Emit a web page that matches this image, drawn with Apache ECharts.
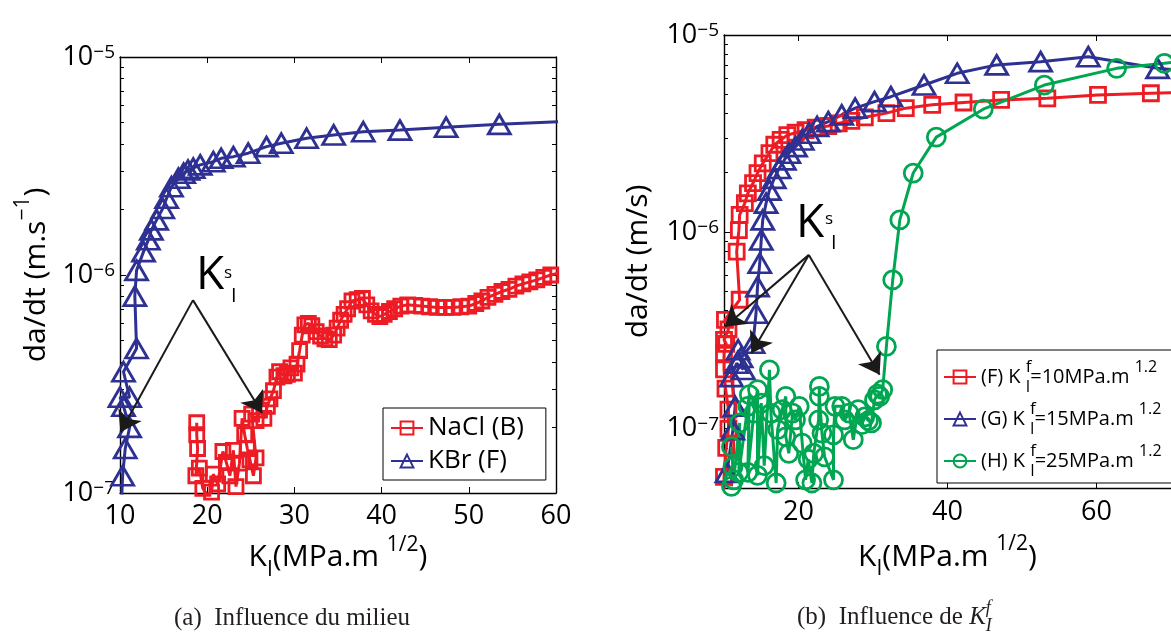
<!DOCTYPE html>
<html><head><meta charset="utf-8">
<script src="https://cdn.jsdelivr.net/npm/echarts@6/dist/echarts.min.js"></script>
<style>html,body{margin:0;padding:0;background:#fff}#c{width:1171px;height:635px}</style>
</head><body><div id="c"></div>
<script>
// ---------- data (x = K_I in MPa.m^1/2, y = da/dt) ----------
const xTicksA = [10, 20, 30, 40, 50, 60];
const xTicksB = [20, 40, 60];
const yTicksA = [1e-7, 1e-6, 1e-5];
const yTicksB = [1e-7, 1e-6, 1e-5];

const namesA = ['NaCl (B)', 'KBr (F)'];
const namesB = ['(F) K_I^f=10MPa.m^1.2', '(G) K_I^f=15MPa.m^1.2', '(H) K_I^f=25MPa.m^1.2'];
const legendPartsB = [['(F) K', '=10MPa.m'], ['(G) K', '=15MPa.m'], ['(H) K', '=25MPa.m']];

const naclB = [[18.8,2.1e-7],[18.8,1.85e-7],[18.9,1.6e-7],[18.7,1.2e-7],[19.1,1.3e-7],[19.5,1.05e-7],[20.0,0.98e-7],[20.5,1.01e-7],[20.7,1.22e-7],[21.2,1.1e-7],[21.8,1.55e-7],[22.2,1.38e-7],[22.6,1.2e-7],[23.0,1.57e-7],[23.3,1.07e-7],[23.7,1.37e-7],[24.0,2.2e-7],[24.3,1.85e-7],[24.6,1.6e-7],[24.9,1.42e-7],[25.3,1.2e-7],[25.6,1.45e-7],[25.1,2.3e-7],[25.6,2.15e-7],[26.0,2.4e-7],[26.5,2.2e-7],[26.9,2.5e-7],[27.2,2.7e-7],[27.6,2.95e-7],[28.0,3.4e-7],[28.3,3.6e-7],[28.8,3.45e-7],[29.2,3.5e-7],[29.6,3.75e-7],[30.0,3.55e-7],[30.3,3.9e-7],[30.6,4.5e-7],[30.9,5.3e-7],[31.2,5.9e-7],[31.6,6.0e-7],[32.0,5.85e-7],[32.5,5.5e-7],[33.0,5.25e-7],[33.5,5.1e-7],[34.0,5.05e-7],[34.5,5.3e-7],[34.9,5.7e-7],[35.3,6.2e-7],[35.7,6.6e-7],[36.1,7.0e-7],[36.6,7.6e-7],[37.2,7.7e-7],[37.8,7.8e-7],[38.3,7.3e-7],[38.8,6.85e-7],[39.3,6.6e-7],[39.8,6.45e-7],[40.3,6.6e-7],[40.9,6.8e-7],[41.5,7.0e-7],[42.2,7.2e-7],[43.0,7.3e-7],[43.8,7.25e-7],[44.6,7.2e-7],[45.5,7.15e-7],[46.4,7.1e-7],[47.3,7.1e-7],[48.2,7.1e-7],[49.1,7.15e-7],[50.0,7.2e-7],[50.8,7.4e-7],[51.5,7.6e-7],[52.2,7.9e-7],[53.0,8.15e-7],[53.8,8.4e-7],[54.6,8.6e-7],[55.4,8.9e-7],[56.2,9.1e-7],[57.0,9.3e-7],[57.8,9.5e-7],[58.6,9.75e-7],[59.4,1.0e-6],[60.3,1.02e-6]];

const kbrF = [[10.15,0.85e-7],[10.3,1.2e-7],[10.6,1.6e-7],[11.1,2.0e-7],[10.4,2.5e-7],[10.0,2.75e-7],[11.1,2.75e-7],[10.4,3.6e-7],[11.9,4.6e-7],[11.7,8.0e-7],[11.9,1.05e-6],[12.7,1.28e-6],[13.25,1.45e-6],[13.6,1.61e-6],[14.2,1.79e-6],[14.9,2.02e-6],[15.35,2.25e-6],[15.9,2.54e-6],[16.7,2.78e-6],[17.3,2.93e-6],[17.8,3.03e-6],[18.4,3.09e-6],[19.2,3.2e-6],[20.7,3.31e-6],[21.6,3.43e-6],[23.0,3.49e-6],[24.7,3.62e-6],[26.8,3.88e-6],[28.5,4.02e-6],[31.4,4.24e-6],[34.5,4.39e-6],[37.9,4.54e-6],[42.1,4.62e-6],[47.4,4.76e-6],[53.5,4.91e-6],[61.5,5.08e-6]];

const kf10 = [[10.0,4.8e-8],[10.0,5.7e-8],[10.3,8.0e-8],[10.6,1.0e-7],[10.6,1.25e-7],[10.2,1.6e-7],[10.0,2.0e-7],[10.0,2.42e-7],[10.3,2.7e-7],[10.0,2.83e-7],[10.6,3.2e-7],[10.13,3.57e-7],[12.1,4.52e-7],[11.7,7.94e-7],[12.0,1.02e-6],[12.1,1.22e-6],[12.8,1.40e-6],[13.2,1.57e-6],[13.9,1.77e-6],[14.5,1.99e-6],[15.2,2.23e-6],[16.1,2.51e-6],[16.75,2.77e-6],[17.6,2.93e-6],[18.5,3.1e-6],[19.6,3.19e-6],[20.95,3.29e-6],[22.3,3.38e-6],[24.0,3.45e-6],[25.4,3.56e-6],[27.1,3.66e-6],[28.9,3.82e-6],[31.8,4.01e-6],[34.4,4.25e-6],[37.95,4.42e-6],[42.15,4.54e-6],[47.2,4.68e-6],[53.4,4.77e-6],[60.2,4.96e-6],[67.3,5.06e-6],[72,5.1e-6]];

const kf15 = [[9.5,4.5e-8],[10.4,6.0e-8],[11.2,9.9e-8],[11.5,1.3e-7],[11.0,1.84e-7],[11.7,2.15e-7],[12.6,2.0e-7],[11.9,2.52e-7],[12.3,2.3e-7],[13.9,2.72e-7],[14.3,3.86e-7],[14.5,5.27e-7],[14.8,6.93e-7],[15.0,9.1e-7],[15.2,1.15e-6],[15.65,1.40e-6],[16.1,1.63e-6],[16.75,1.87e-6],[17.4,2.10e-6],[18.1,2.32e-6],[18.7,2.51e-6],[19.6,2.71e-6],[20.5,2.93e-6],[21.4,3.17e-6],[22.5,3.43e-6],[24.0,3.63e-6],[25.8,3.93e-6],[27.6,4.25e-6],[30.2,4.59e-6],[32.4,4.86e-6],[36.85,5.57e-6],[41.3,6.39e-6],[46.6,7.05e-6],[52.5,7.32e-6],[58.9,7.76e-6],[68.2,6.77e-6],[72,6.6e-6]];

const kf25 = [[11.0,5.1e-8],[11.2,6.4e-8],[11.0,8.1e-8],[11.3,5.5e-8],[12.1,1.07e-7],[12.0,6.0e-8],[13.2,1.30e-7],[13.4,1.49e-7],[13.2,6.0e-8],[14.0,1.2e-7],[14.5,1.58e-7],[14.5,5.8e-8],[15.0,1.35e-7],[15.4,6.5e-8],[16.1,1.99e-7],[16.3,1.20e-7],[17.0,5.3e-8],[17.2,9.9e-8],[17.8,1.25e-7],[18.3,1.46e-7],[18.3,9.1e-8],[18.7,7.5e-8],[19.2,1.2e-7],[19.6,1.11e-7],[20.1,1.30e-7],[20.5,8.45e-8],[20.95,5.5e-8],[21.3,7.0e-8],[21.8,5.3e-8],[22.05,7.5e-8],[22.7,1.11e-7],[22.8,1.64e-7],[22.8,1.46e-7],[23.15,9.5e-8],[23.5,7.2e-8],[24.7,5.5e-8],[24.7,9.3e-8],[24.9,1.30e-7],[25.8,1.30e-7],[26.2,1.11e-7],[26.8,1.2e-7],[27.35,8.8e-8],[28.0,1.25e-7],[28.5,1.05e-7],[28.9,1.15e-7],[29.4,1.1e-7],[29.8,1.07e-7],[30.2,1.40e-7],[30.6,1.5e-7],[30.9,1.46e-7],[31.3,1.58e-7],[31.8,2.62e-7],[32.65,5.7e-7],[33.6,1.15e-6],[35.4,1.99e-6],[38.5,3.03e-6],[44.8,4.2e-6],[53.0,5.57e-6],[62.7,6.77e-6],[69.1,7.18e-6],[72,7.4e-6]];

// K_I^s annotation arrows (data coordinates)
const arrowApexA = [18.37, 7.67e-7];
const arrowTipsA = [[10.05, 1.9e-7], [26.3, 2.33e-7]];
const arrowApexB = [21.39, 7.64e-7];
const arrowTipsB = [[10.13, 3.3e-7], [13.67, 2.42e-7], [30.89, 1.88e-7]];

// ---------- styles ----------
const RED = '#ED1C24', BLUE = '#2E3192', GREEN = '#00A651';
const FF = '"Open Sans", sans-serif';
const SERIF = '"Liberation Serif", "DejaVu Serif", serif';

function sci(v) {
  const l = Math.log10(v), e = Math.round(l);
  if (Math.abs(l - e) > 1e-6) return '';
  return '{b|10}{s|−' + (-e) + '}';
}
const yRich = {
  b: {fontSize: 27, fontFamily: FF, color: '#000', lineHeight: 28},
  s: {fontSize: 19, fontFamily: FF, color: '#000', lineHeight: 4, verticalAlign: 'top'}
};
const nameRich = {
  n: {fontSize: 30, fontFamily: FF, color: '#000', lineHeight: 46},
  sb: {fontSize: 21, fontFamily: FF, color: '#000', lineHeight: 10, verticalAlign: 'bottom'},
  sp: {fontSize: 21, fontFamily: FF, color: '#000', lineHeight: 16, verticalAlign: 'top'}
};
const xName = '{n|K}{sb|I}{n|(MPa.m }{sp|1/2}{n|)}';

const axLine = {show: true, lineStyle: {color: '#000', width: 1.4}};
const tickIn = {show: true, inside: true, length: 6, lineStyle: {color: '#000', width: 1}};
const minorIn = {show: true, splitNumber: 9, length: 4, lineStyle: {color: '#000', width: 1}};

function mkSeries(name, pts, symbol, size, color, xi, yi) {
  return {
    type: 'line', name, data: pts, xAxisIndex: xi, yAxisIndex: yi,
    symbol, symbolSize: size, clip: true,
    lineStyle: {color, width: 3},
    itemStyle: {color: 'rgba(255,255,255,0)', borderColor: color, borderWidth: 2.8},
    emphasis: {disabled: true}
  };
}
function arrowSeries(apex, tips, xi, yi) {
  return {
    type: 'line', name: 'arrows' + xi, data: [], xAxisIndex: xi, yAxisIndex: yi,
    silent: true,
    markLine: {
      silent: true, symbol: ['none', 'arrow'], symbolSize: 20, animation: false,
      label: {show: false},
      lineStyle: {color: '#1a1a1a', width: 2, type: 'solid'},
      emphasis: {disabled: true},
      data: tips.map(t => [{coord: apex}, {coord: t}])
    }
  };
}

const chart = echarts.init(document.getElementById('c'), null, {renderer: 'canvas'});
chart.setOption({
  animation: false,
  backgroundColor: '#fff',
  grid: [
    {left: 120, top: 57, width: 436, height: 436},
    {left: 724, top: 35, width: 453, height: 453}
  ],
  xAxis: [
    {gridIndex: 0, type: 'value', position: 'bottom', min: 10, max: 60, interval: 10,
     axisLine: axLine, axisTick: tickIn, splitLine: {show: false},
     axisLabel: {fontSize: 27, fontFamily: FF, color: '#000', margin: 10},
     name: xName, nameLocation: 'middle', nameGap: 41, nameTextStyle: {rich: nameRich}},
    {gridIndex: 0, type: 'value', position: 'top', min: 10, max: 60, interval: 10,
     axisLine: axLine, axisTick: tickIn, splitLine: {show: false}, axisLabel: {show: false}},
    {gridIndex: 1, type: 'value', position: 'bottom', min: 10, max: 70,
     axisLine: axLine, axisTick: Object.assign({}, tickIn, {customValues: xTicksB}), splitLine: {show: false},
     axisLabel: {fontSize: 27, fontFamily: FF, color: '#000', margin: 11, customValues: xTicksB},
     name: xName, nameLocation: 'middle', nameGap: 46, nameTextStyle: {rich: nameRich}},
    {gridIndex: 1, type: 'value', position: 'top', min: 10, max: 70,
     axisLine: axLine, axisTick: Object.assign({}, tickIn, {customValues: xTicksB}), splitLine: {show: false}, axisLabel: {show: false}}
  ],
  yAxis: [
    {gridIndex: 0, type: 'log', logBase: 10, position: 'left', min: 1e-7, max: 1e-5,
     axisLine: axLine, axisTick: tickIn, minorTick: minorIn, splitLine: {show: false}, minorSplitLine: {show: false},
     axisLabel: {formatter: sci, customValues: yTicksA, margin: 5, rich: yRich},
     name: '{n|da/dt (m.s}{sp|−1}{n|)}', nameLocation: 'middle', nameGap: 61,
     nameTextStyle: {rich: nameRich}},
    {gridIndex: 0, type: 'log', logBase: 10, position: 'right', min: 1e-7, max: 1e-5,
     axisLine: axLine, axisTick: tickIn, minorTick: minorIn, splitLine: {show: false}, axisLabel: {show: false}},
    {gridIndex: 1, type: 'log', logBase: 10, position: 'left', min: 5e-8, max: 1e-5,
     axisLine: axLine, axisTick: tickIn, minorTick: minorIn, splitLine: {show: false}, minorSplitLine: {show: false},
     axisLabel: {formatter: sci, customValues: yTicksB, margin: 5, rich: yRich},
     name: '{n|da/dt (m/s)}', nameLocation: 'middle', nameGap: 63,
     nameTextStyle: {rich: nameRich}}
  ],
  legend: [
    {data: namesA, orient: 'vertical', left: 383, top: 408, selectedMode: false,
     backgroundColor: '#fff', borderColor: '#000', borderWidth: 1, borderRadius: 0,
     padding: [7, 22, 6, 7], itemWidth: 32, itemHeight: 16, itemGap: 7,
     formatter: name => '{t|' + name + '}',
     textStyle: {fontSize: 26, fontFamily: FF, color: '#000', rich: {
       t: {fontSize: 26, fontFamily: FF, color: '#000', lineHeight: 30}
     }}},
    {data: namesB, orient: 'vertical', left: 937, top: 350, selectedMode: false,
     backgroundColor: '#fff', borderColor: '#000', borderWidth: 1, borderRadius: 0,
     padding: [9, 20, 4, 6], itemWidth: 32, itemHeight: 16, itemGap: 6,
     formatter: function (name) {
       const p = legendPartsB[namesB.indexOf(name)];
       return '{t|' + p[0] + ' }{f|f}{i|I}{t|' + p[1] + ' }{p|1.2}';
     },
     textStyle: {fontFamily: FF, color: '#000', rich: {
       t: {fontSize: 20, fontFamily: FF, color: '#000', lineHeight: 36},
       f: {fontSize: 17, fontFamily: FF, color: '#000', lineHeight: 18, width: 0, verticalAlign: 'top'},
       i: {fontSize: 16, fontFamily: FF, color: '#000', lineHeight: 8, verticalAlign: 'bottom'},
       p: {fontSize: 16, fontFamily: FF, color: '#000', lineHeight: 14, verticalAlign: 'top'}
     }}}
  ],
  series: [
    mkSeries(namesA[0], naclB, 'rect', 14, RED, 0, 0),
    mkSeries(namesA[1], kbrF, 'triangle', [22, 19], BLUE, 0, 0),
    arrowSeries(arrowApexA, arrowTipsA, 0, 0),
    mkSeries(namesB[0], kf10, 'rect', 15, RED, 2, 2),
    mkSeries(namesB[1], kf15, 'triangle', [22, 19], BLUE, 2, 2),
    mkSeries(namesB[2], kf25, 'circle', 18, GREEN, 2, 2),
    arrowSeries(arrowApexB, arrowTipsB, 2, 2)
  ],
  graphic: [
    {type: 'text', x: 196, y: 276, style: {text: 'K', font: '46px ' + FF, fill: '#000', align: 'left', verticalAlign: 'middle'}},
    {type: 'text', x: 224, y: 273, style: {text: 's', font: '17px ' + FF, fill: '#000', align: 'left', verticalAlign: 'middle'}},
    {type: 'text', x: 231, y: 296, style: {text: 'I', font: '20px ' + FF, fill: '#000', align: 'left', verticalAlign: 'middle'}},
    {type: 'text', x: 796, y: 224, style: {text: 'K', font: '46px ' + FF, fill: '#000', align: 'left', verticalAlign: 'middle'}},
    {type: 'text', x: 825, y: 219, style: {text: 's', font: '17px ' + FF, fill: '#000', align: 'left', verticalAlign: 'middle'}},
    {type: 'text', x: 831, y: 243, style: {text: 'I', font: '20px ' + FF, fill: '#000', align: 'left', verticalAlign: 'middle'}},
    {type: 'text', x: 292, y: 618, style: {text: '(a)  Influence du milieu', font: '25px ' + SERIF, fill: '#231F20', align: 'center', verticalAlign: 'middle'}},
    {type: 'text', x: 797, y: 617, style: {
      text: '{t|(b)  Influence de }{k|K}{f|f}{i|I}', align: 'left', verticalAlign: 'middle',
      rich: {
        t: {font: '25px ' + SERIF, fill: '#231F20', lineHeight: 36},
        k: {font: 'italic 25px ' + SERIF, fill: '#231F20', lineHeight: 36},
        f: {font: 'italic 18px ' + SERIF, fill: '#231F20', lineHeight: 14, width: 0, verticalAlign: 'top'},
        i: {font: 'italic 18px ' + SERIF, fill: '#231F20', lineHeight: 8, verticalAlign: 'bottom'}
      }}}
  ]
});
</script></body></html>
